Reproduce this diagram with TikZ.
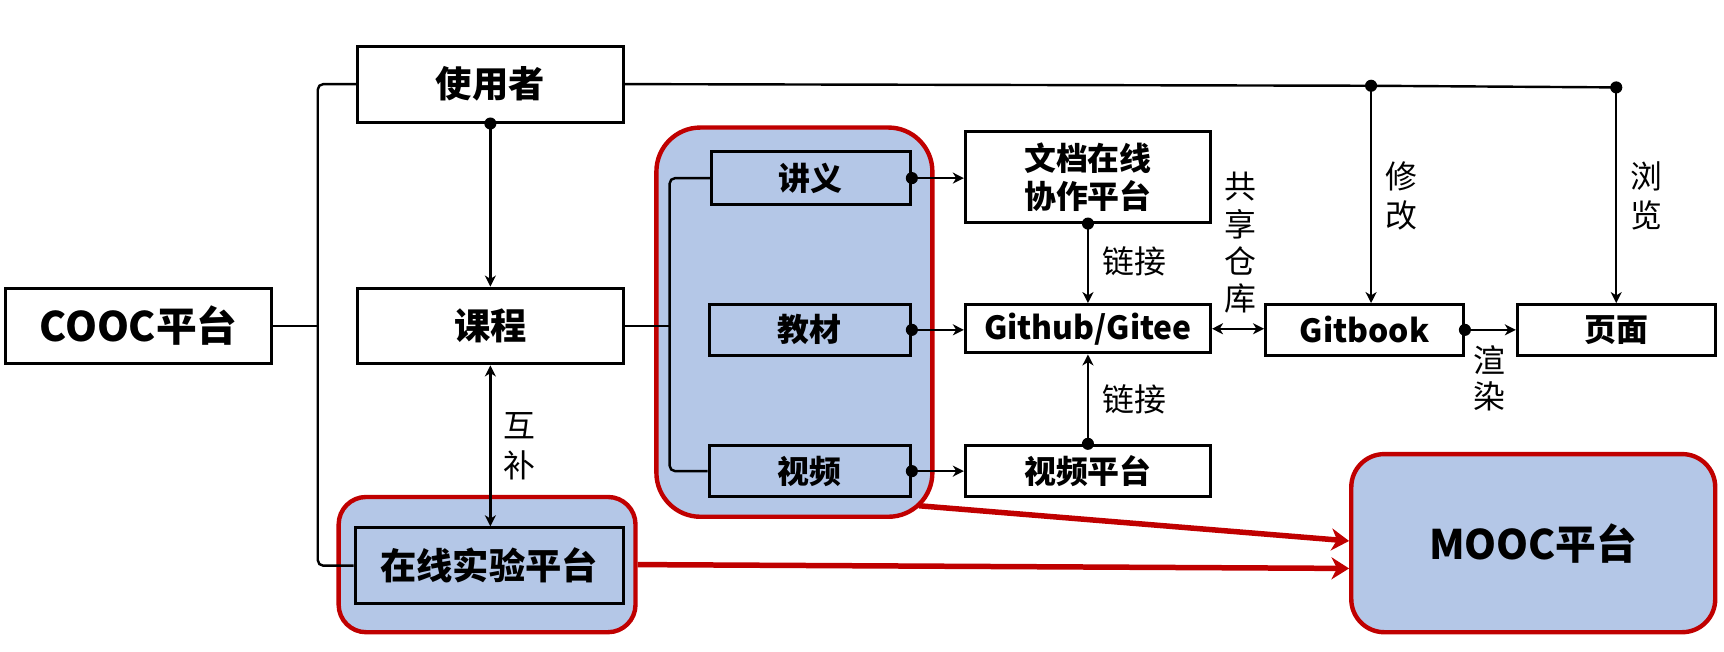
\documentclass[tikz,border=0pt]{standalone}
\usepackage{fontspec}
\setmainfont{Noto Sans CJK SC}
\usetikzlibrary{arrows.meta}
\definecolor{lb}{HTML}{B4C7E7}
\definecolor{dr}{HTML}{C00000}
\begin{document}
\begin{tikzpicture}[x=1pt,y=-1pt,
  sz/.style 2 args={minimum width=#1pt,minimum height=#2pt},
  box/.style={draw=black,line width=2.7pt,fill=white,inner sep=0pt,align=center,font=\fontsize{29}{34}\selectfont\bfseries},
  bigtxt/.style={font=\fontsize{33}{38}\selectfont\bfseries},
  hugetxt/.style={font=\fontsize{37}{40}\selectfont\bfseries},
  bbox/.style={box,fill=lb},
  grp/.style={draw=dr,line width=4pt,fill=lb,rounded corners=#1,inner sep=0pt},
  conn/.style={line width=2.2pt},
  tip/.style={-{Stealth[length=10pt,width=10pt,inset=3pt]}},
  dtip/.style={{Stealth[length=10pt,width=10pt,inset=3pt]}-{Stealth[length=10pt,width=10pt,inset=3pt]}},
  lbl/.style={font=\fontsize{29}{36}\selectfont,align=center,inner sep=0pt},
  dot/.style={circle,fill=black,inner sep=0pt,minimum size=11pt},
  redarr/.style={draw=dr,line width=5pt,-{Stealth[length=16pt,width=20pt,inset=5pt]}},
]
\useasboundingbox (0,0) rectangle (1568,593);
% groups
\node[grp=40pt,sz={251}{354}] (grp) at (722.5,293) {};
\node[grp=25pt,sz={270}{123}] (labouter) at (443,513.5) {};
\node[grp=30pt,sz={331}{162},hugetxt] (mooc) at (1394.5,494) {MOOC平台};
% boxes
\node[box,hugetxt,sz={242}{69}] (cooc) at (126,296.5) {COOC平台};
\node[box,bigtxt,sz={242}{69}] (user) at (446,76.5) {使用者};
\node[box,bigtxt,sz={242}{69}] (course) at (446,296.5) {课程};
\node[bbox,bigtxt,sz={244}{69}] (lab) at (445,514.5) {在线实验平台};
\node[bbox,sz={181}{48}] (jy) at (737.5,162) {讲义};
\node[bbox,sz={183}{46}] (jc) at (736.5,300) {教材};
\node[bbox,sz={183}{47}] (sp) at (736.5,428.5) {视频};
\node[box,sz={223}{82}] (doc) at (989.5,161) {文档在线\\协作平台};
\node[box,sz={223}{44}] (gh) at (989.5,299) {Github/Gitee};
\node[box,sz={223}{47}] (vp) at (989.5,428.5) {视频平台};
\node[box,sz={180}{46}] (gb) at (1241,300) {Gitbook};
\node[box,sz={180}{46}] (page) at (1470,300) {页面};
% left bracket
\coordinate (bx) at (289,296.5);
\draw[conn,rounded corners=5pt] (user.west) -| (bx) |- (lab.west);
\draw[conn] (cooc.east) -- (bx);
% group bracket
\coordinate (gx) at (609,296.5);
\draw[conn,rounded corners=5pt] (jy.west) -| (gx) |- (sp.west);
\draw[conn] (course.east) -- (gx);
% user to course
\draw[conn,tip] (user.south) -- (course.north);
\node[dot] at (user.south) {};
% course <-> lab
\draw[conn,dtip] (course.south) -- (course.south |- lab.north);
% top line
\coordinate (dA) at (1247,78);
\coordinate (dB) at (1470,79.5);
\draw[conn] (user.east) -- (dA) -- (dB);
\draw[conn,tip] (dA) -- (dA |- gb.north);
\draw[conn,tip] (dB) -- (dB |- page.north);
\node[dot] at (dA) {};
\node[dot] at (dB) {};
% group to right
\draw[conn,tip] (jy.east) -- (jy.east -| doc.west);
\draw[conn,tip] (jc.east) -- (jc.east -| gh.west);
\draw[conn,tip] (sp.east) -- (sp.east -| vp.west);
\node[dot] at (jy.east) {};
\node[dot] at (jc.east) {};
\node[dot] at (sp.east) {};
% links
\draw[conn,tip] (doc.south) -- (gh.north);
\node[dot] at (doc.south) {};
\draw[conn,tip] (vp.north) -- (gh.south);
\node[dot] at (vp.north) {};
\draw[conn,dtip] (gh.east) -- (gh.east -| gb.west);
\draw[conn,tip] (gb.east) -- (gb.east -| page.west);
\node[dot] at (gb.east) {};
% red arrows
\coordinate (r1) at (836,460);
\draw[redarr] (r1) -- ([yshift=2pt]mooc.west);
\draw[redarr] (labouter.east) -- ([yshift=-23pt]mooc.west);
% labels
\node[lbl,font=\fontsize{29}{37}\selectfont] (l1) at (472,406) {互\\补};
\node[lbl] (l2) at (1032,238) {链接};
\node[lbl] (l3) at (1032,363) {链接};
\node[lbl,font=\fontsize{29}{34}\selectfont] (l4) at (1128,221) {共\\享\\仓\\库};
\node[lbl,font=\fontsize{29}{35}\selectfont] (l5) at (1275,178) {修\\改};
\node[lbl,font=\fontsize{29}{35}\selectfont] (l6) at (1497,178) {浏\\览};
\node[lbl,font=\fontsize{29}{33}\selectfont] (l7) at (1355,344) {渲\\染};
\end{tikzpicture}
\end{document}
